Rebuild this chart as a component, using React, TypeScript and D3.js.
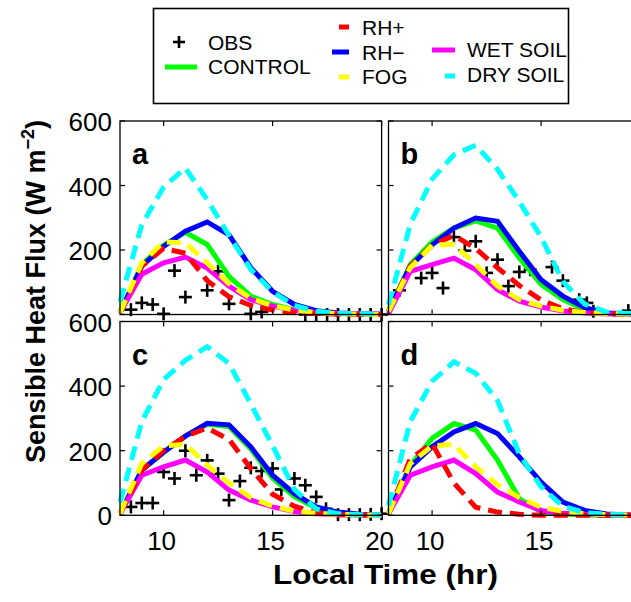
import React from 'react';
import * as d3 from 'd3';

const FONT = "'Liberation Sans', Arial, Helvetica, sans-serif";

// ---------- data ----------
const hours = [8, 9, 10, 11, 12, 13, 14, 15, 16, 17, 18, 19, 20];
const xTicks = [10, 15, 20];
const yTicks = [0, 200, 400, 600];
const panelLetters = ['a', 'b', 'c', 'd'];

const seriesNames = ['CONTROL', 'RH+', 'RH\u2212', 'FOG', 'WET SOIL', 'DRY SOIL'];
const seriesColors = ['#00ff00', '#ff0000', '#0000ff', '#ffff00', '#ff00ff', '#00ffff'];
const seriesDashed = [false, true, false, true, false, true];
// drawing order (index into series arrays)
const drawOrder = [0, 2, 4, 1, 3, 5];

// panel a
const controlA = [5, 155, 215, 255, 217, 118, 57, 31, 15, 6, 3, 1, 0];
const rhPlusA = [5, 150, 205, 190, 105, 55, 28, 14, 6, 3, 1, 0, 0];
const rhMinusA = [5, 150, 211, 258, 287, 247, 145, 72, 31, 12, 5, 2, 1];
const fogA = [5, 160, 225, 222, 160, 95, 50, 27, 14, 6, 3, 1, 0];
const wetA = [5, 125, 160, 178, 144, 88, 46, 26, 13, 6, 3, 2, 1];
const dryA = [40, 278, 395, 454, 356, 245, 140, 70, 28, 10, 4, 2, 1];
const obsTimeA = [8.5, 9, 9.5, 10, 10.5, 11, 12, 12.5, 13, 14, 14.5, 16.5, 17, 17.5, 18, 18.5, 19, 19.5, 20];
const obsValA = [15, 36, 31, 2, 136, 54, 75, 134, 33, 2, 8, 0, 0, 0, 0, 0, 0, 0, 0];

// panel b
const controlB = [10, 155, 225, 268, 290, 268, 175, 93, 46, 15, 4, 1, 0];
const rhPlusB = [10, 150, 215, 245, 205, 145, 90, 45, 18, 6, 2, 1, 0];
const rhMinusB = [10, 150, 216, 268, 299, 289, 196, 108, 57, 21, 5, 2, 1];
const fogB = [10, 145, 215, 218, 155, 88, 46, 26, 13, 6, 3, 1, 0];
const wetB = [3, 134, 155, 175, 139, 77, 41, 23, 11, 5, 2, 1, 0];
const dryB = [30, 280, 420, 495, 525, 450, 350, 240, 102, 32, 8, 3, 1];
const obsTimeB = [8.5, 9.5, 10, 10.5, 11, 11.5, 12, 12.5, 13, 13.5, 14, 14.5, 15.5, 16, 16.75, 17.1, 17.4, 19];
const obsValB = [75, 113, 129, 82, 240, 198, 227, 129, 170, 88, 132, 139, 147, 105, 46, 36, 10, 12];

// panel c
const controlC = [5, 140, 195, 245, 282, 275, 205, 115, 58, 22, 8, 2, 1];
const rhPlusC = [5, 140, 200, 245, 270, 235, 145, 65, 28, 8, 2, 1, 0];
const rhMinusC = [5, 140, 195, 245, 285, 280, 212, 124, 67, 26, 10, 3, 1];
const fogC = [5, 160, 215, 220, 155, 100, 55, 28, 13, 6, 3, 1, 0];
const wetC = [5, 124, 150, 171, 134, 78, 47, 26, 12, 5, 2, 1, 0];
const dryC = [40, 290, 420, 480, 522, 470, 345, 215, 80, 20, 5, 2, 1];
const obsTimeC = [8.5, 9, 9.5, 10, 10.5, 11, 11.5, 12, 12.5, 13, 13.5, 14, 14.5, 15, 15.4, 16, 16.5, 17, 17.45, 18, 18.5, 19, 19.5, 20];
const obsValC = [26, 38, 38, 134, 114, 200, 124, 170, 129, 47, 106, 147, 137, 145, 80, 114, 93, 57, 20, 2, 2, 2, 3, 5];

// panel d
const controlD = [5, 155, 238, 284, 264, 171, 52, 10, 4, 1, 0, 0, 0];
const rhPlusD = [5, 175, 222, 100, 25, 10, 3, 0, 0, 0, 0, 0, 0];
const rhMinusD = [5, 150, 212, 258, 284, 253, 181, 103, 41, 15, 4, 1, 0];
const fogD = [5, 160, 215, 220, 150, 95, 55, 25, 12, 5, 2, 1, 0];
const wetD = [5, 124, 150, 171, 129, 72, 41, 15, 6, 3, 1, 0, 0];
const dryD = [30, 290, 415, 475, 440, 355, 190, 88, 28, 8, 3, 1, 0];
const obsTimeD: number[] = [];
const obsValD: number[] = [];

const panelSeries = [
  [controlA, rhPlusA, rhMinusA, fogA, wetA, dryA],
  [controlB, rhPlusB, rhMinusB, fogB, wetB, dryB],
  [controlC, rhPlusC, rhMinusC, fogC, wetC, dryC],
  [controlD, rhPlusD, rhMinusD, fogD, wetD, dryD],
];
const panelObsT = [obsTimeA, obsTimeB, obsTimeC, obsTimeD];
const panelObsV = [obsValA, obsValB, obsValC, obsValD];

// ---------- layout ----------
const W = 631;
const H = 602;
const PW = 261.6;
const boxes = [
  { x0: 120, y0: 121, h: 193.5, left: true, bottom: false },
  { x0: 388.5, y0: 121, h: 193.5, left: false, bottom: false },
  { x0: 120, y0: 321.5, h: 193.8, left: true, bottom: true },
  { x0: 388.5, y0: 321.5, h: 193.8, left: false, bottom: true },
];
const LW = 5;
const DASH = '14 8';
const TICK = 5;

function Plus({ x, y, s = 6.5 }: { x: number; y: number; s?: number }) {
  return (
    <g stroke="#000" strokeWidth={2.6}>
      <line x1={x - s} x2={x + s} y1={y} y2={y} />
      <line x1={x} x2={x} y1={y - s} y2={y + s} />
    </g>
  );
}

function Panel({ i }: { i: number }) {
  const b = boxes[i];
  const x = d3.scaleLinear().domain([8, 20]).range([b.x0, b.x0 + PW]);
  const y = d3.scaleLinear().domain([0, 600]).range([b.y0 + b.h, b.y0]);
  const line = d3
    .line<number>()
    .x((_, k) => x(hours[k]))
    .y((v) => y(v));
  const series = panelSeries[i];
  const ot = panelObsT[i];
  const ov = panelObsV[i];
  return (
    <g>
      <rect x={b.x0} y={b.y0} width={PW} height={b.h} fill="#fff" />
      {ot.map((t, k) => (
        <Plus key={k} x={x(t)} y={y(ov[k])} />
      ))}
      {drawOrder.map((s) => (
        <path
          key={s}
          d={line(series[s]) || ''}
          fill="none"
          stroke={seriesColors[s]}
          strokeWidth={LW}
          strokeDasharray={seriesDashed[s] ? DASH : undefined}
          strokeLinejoin="miter"
        />
      ))}
      <rect x={b.x0} y={b.y0} width={PW} height={b.h} fill="none" stroke="#000" strokeWidth={1.3} />
      {yTicks.map((v) => (
        <g key={'yt' + v} stroke="#000" strokeWidth={1.2}>
          <line x1={b.x0} x2={b.x0 + TICK} y1={y(v)} y2={y(v)} />
          <line x1={b.x0 + PW} x2={b.x0 + PW - TICK} y1={y(v)} y2={y(v)} />
        </g>
      ))}
      {xTicks.map((t) => (
        <g key={'xt' + t} stroke="#000" strokeWidth={1.2}>
          <line x1={x(t)} x2={x(t)} y1={b.y0 + b.h} y2={b.y0 + b.h - TICK} />
          <line x1={x(t)} x2={x(t)} y1={b.y0} y2={b.y0 + TICK} />
        </g>
      ))}
      <text
        x={b.x0 + 12}
        y={b.y0 + 43}
        fontFamily={FONT}
        fontSize={29}
        fontWeight="bold"
        fill="#000"
      >
        {panelLetters[i]}
      </text>
    </g>
  );
}

function Labels({ i }: { i: number }) {
  const b = boxes[i];
  const x = d3.scaleLinear().domain([8, 20]).range([b.x0, b.x0 + PW]);
  const y = d3.scaleLinear().domain([0, 600]).range([b.y0 + b.h, b.y0]);
  const ys = b.bottom ? yTicks : yTicks.filter((v) => v > 0);
  // only labels whose tick lies inside the picture
  const xs = xTicks.filter((t) => x(t) < W - 15);
  return (
    <g fontFamily={FONT} fontSize={26} fill="#000">
      {b.left &&
        ys.map((v) => (
          <text key={'yl' + v} x={b.x0 - 8} y={y(v) + 10} textAnchor="end">
            {v}
          </text>
        ))}
      {b.bottom &&
        xs.map((t) => (
          <text key={'xl' + t} x={x(t) - 2} y={550} textAnchor="middle">
            {t}
          </text>
        ))}
    </g>
  );
}

function Legend() {
  return (
    <g fontFamily={FONT} fontSize={21} fill="#000">
      <rect x={153.5} y={8.5} width={415} height={95} fill="#fff" stroke="#000" strokeWidth={1.6} />
      <Plus x={179} y={42} s={6} />
      <text x={208} y={50}>OBS</text>
      <line x1={165} x2={197} y1={67} y2={67} stroke={seriesColors[0]} strokeWidth={5} />
      <text x={208} y={74}>{seriesNames[0]}</text>
      <line x1={339} x2={349} y1={27} y2={27} stroke={seriesColors[1]} strokeWidth={5} />
      <text x={362} y={35}>{seriesNames[1]}</text>
      <line x1={332} x2={349} y1={52} y2={52} stroke={seriesColors[2]} strokeWidth={5} />
      <text x={362} y={60}>{seriesNames[2]}</text>
      <line x1={339} x2={349} y1={77} y2={77} stroke={seriesColors[3]} strokeWidth={5} />
      <text x={362} y={84}>{seriesNames[3]}</text>
      <line x1={432} x2={455} y1={50} y2={50} stroke={seriesColors[4]} strokeWidth={5} />
      <text x={467} y={57}>{seriesNames[4]}</text>
      <line x1={445} x2={455} y1={76} y2={76} stroke={seriesColors[5]} strokeWidth={5} />
      <text x={467} y={82}>{seriesNames[5]}</text>
    </g>
  );
}

export default function App() {
  return (
    <svg
      width={W}
      height={H}
      style={{ position: 'absolute', left: 0, top: 0, background: '#fff' }}
    >
      <rect x={0} y={0} width={W} height={H} fill="#fff" />
      {[0, 1, 2, 3].map((i) => (
        <Panel key={i} i={i} />
      ))}
      {[0, 1, 2, 3].map((i) => (
        <Labels key={i} i={i} />
      ))}
      <Legend />
      <text
        x={385.5}
        y={584}
        textAnchor="middle"
        fontFamily={FONT}
        fontSize={28}
        fontWeight="bold"
        textLength={225}
        lengthAdjust="spacingAndGlyphs"
      >
        Local Time (hr)
      </text>
      <text
        transform="translate(45,291.5) rotate(-90)"
        textAnchor="middle"
        fontFamily={FONT}
        fontSize={27}
        fontWeight="bold"
      >
        Sensible Heat Flux (W m
        <tspan fontSize={18} dy={-11}>
          {'\u22122'}
        </tspan>
        <tspan dy={11}>)</tspan>
      </text>
    </svg>
  );
}
